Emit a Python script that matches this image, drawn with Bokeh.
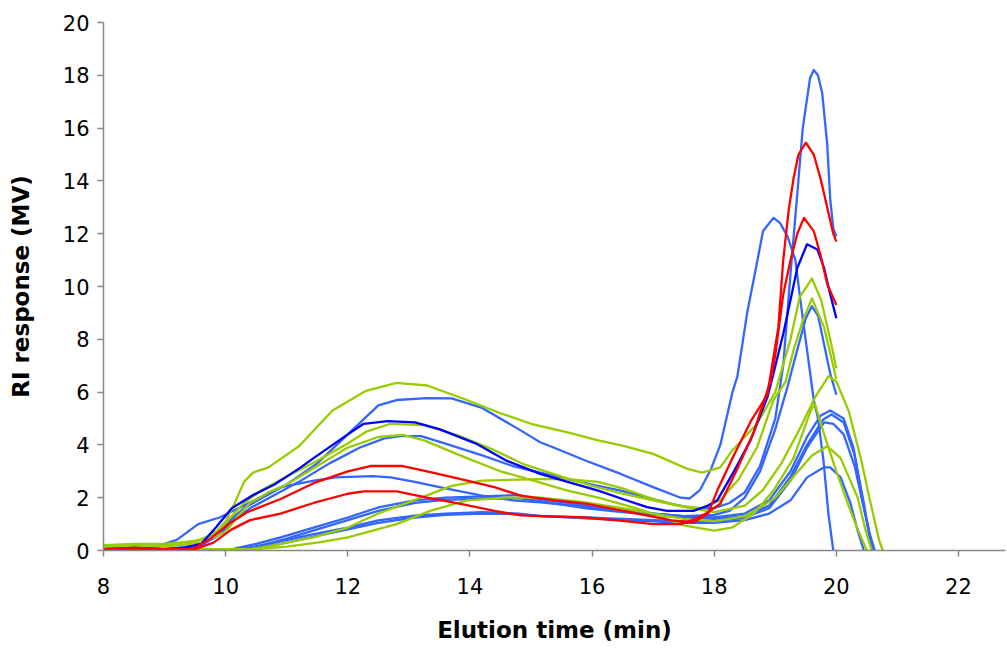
from bokeh.plotting import figure
from bokeh.models import FixedTicker, Range1d
from bokeh.embed import file_html
from bokeh.resources import INLINE

# ---------------- data ----------------
x_ticks = [8, 10, 12, 14, 16, 18, 20, 22]
y_ticks = [0, 2, 4, 6, 8, 10, 12, 14, 16, 18, 20]

# light-blue series
bhigh_x = [8.0, 9.0, 9.5, 9.8, 10.0, 10.3, 10.6, 11.0, 11.5, 12.0, 12.5, 12.8, 13.3, 13.7, 14.2, 14.83, 15.15, 15.37, 15.9, 16.47, 17.0, 17.45, 17.6, 17.77, 17.95, 18.1, 18.3, 18.38, 18.54, 18.7, 18.8, 18.97, 19.08, 19.2, 19.33, 19.41, 19.52, 19.63, 19.7, 19.79, 19.87, 19.95]
bhigh_y = [0.05, 0.05, 0.15, 0.5, 1.0, 1.6, 2.0, 2.5, 3.3, 4.4, 5.5, 5.7, 5.77, 5.76, 5.4, 4.55, 4.1, 3.9, 3.4, 2.9, 2.4, 2.0, 1.97, 2.3, 3.1, 4.0, 6.0, 6.6, 9.0, 10.9, 12.1, 12.6, 12.4, 11.9, 11.0, 9.5, 7.6, 5.7, 5.0, 3.4, 1.4, 0.0]

b3_x = [8.0, 9.0, 9.6, 9.9, 10.1, 10.4, 10.8, 11.2, 11.7, 12.2, 12.6, 12.86, 13.2, 13.6, 14.2, 14.7, 15.15, 15.6, 16.0, 16.47, 17.0, 17.3, 17.66, 18.0, 18.25, 18.5, 18.75, 19.0, 19.13, 19.25, 19.36, 19.45, 19.57, 19.63, 19.7, 19.77, 19.85, 19.9, 19.95, 20.0]
b3_y = [0.05, 0.05, 0.2, 0.6, 1.1, 1.6, 2.1, 2.6, 3.3, 3.9, 4.25, 4.33, 4.33, 4.05, 3.6, 3.2, 2.95, 2.7, 2.5, 2.27, 1.95, 1.77, 1.6, 1.6, 1.8, 2.2, 3.2, 5.0, 7.0, 10.5, 13.5, 16.0, 17.9, 18.2, 18.0, 17.3, 15.4, 13.3, 12.2, 11.9]

bmid_x = [8.0, 8.8, 9.2, 9.55, 9.9, 10.3, 10.9, 11.45, 11.8, 12.4, 12.7, 13.1, 13.6, 14.2, 14.7, 15.15, 15.9, 16.5, 17.0, 17.5, 18.0, 18.25, 18.5, 18.75, 19.0, 19.2, 19.36, 19.5, 19.6, 19.7, 19.8, 19.9, 20.0]
bmid_y = [0.05, 0.1, 0.4, 1.0, 1.25, 1.7, 2.4, 2.65, 2.77, 2.82, 2.77, 2.6, 2.35, 2.08, 1.9, 1.82, 1.65, 1.5, 1.4, 1.3, 1.35, 1.5, 2.0, 3.0, 4.6, 6.2, 7.6, 8.8, 9.25, 8.9, 7.8, 6.7, 5.9]

blow1_x = [8.0, 10.0, 10.5, 10.9, 11.44, 12.0, 12.5, 13.1, 13.6, 14.2, 14.8, 15.15, 15.9, 16.5, 17.0, 17.5, 18.0, 18.5, 18.9, 19.25, 19.52, 19.74, 19.9, 20.12, 20.28, 20.42, 20.55, 20.63]
blow1_y = [0.0, 0.0, 0.25, 0.5, 0.87, 1.25, 1.63, 1.9, 2.0, 2.05, 2.1, 1.95, 1.7, 1.5, 1.4, 1.3, 1.25, 1.4, 1.9, 3.0, 4.3, 5.1, 5.3, 5.0, 3.9, 2.0, 0.6, 0.0]

blow2_x = [8.0, 10.1, 10.6, 11.0, 11.5, 12.0, 12.5, 13.1, 13.6, 14.2, 14.8, 15.2, 15.9, 16.5, 17.0, 17.5, 18.0, 18.5, 18.9, 19.25, 19.52, 19.78, 19.92, 20.12, 20.3, 20.45, 20.58]
blow2_y = [0.0, 0.0, 0.2, 0.45, 0.8, 1.15, 1.5, 1.8, 1.92, 1.97, 1.98, 1.85, 1.6, 1.45, 1.35, 1.25, 1.2, 1.3, 1.7, 2.8, 4.0, 4.95, 5.15, 4.85, 3.6, 1.8, 0.0]

blow3_x = [8.0, 10.2, 10.8, 11.4, 12.0, 12.5, 13.1, 13.6, 14.2, 14.8, 15.15, 15.9, 16.5, 17.0, 17.5, 18.0, 18.5, 18.9, 19.25, 19.52, 19.8, 19.95, 20.12, 20.3, 20.45, 20.6]
blow3_y = [0.0, 0.0, 0.3, 0.6, 0.87, 1.14, 1.32, 1.4, 1.45, 1.4, 1.3, 1.25, 1.2, 1.15, 1.1, 1.1, 1.25, 1.6, 2.65, 3.9, 4.85, 4.8, 4.4, 3.2, 1.6, 0.0]

blow4_x = [8.0, 10.3, 10.9, 11.5, 12.0, 12.5, 13.1, 13.6, 14.2, 14.8, 15.2, 15.9, 16.5, 17.0, 17.5, 18.0, 18.5, 18.9, 19.25, 19.52, 19.8, 19.9, 20.07, 20.23, 20.35, 20.45]
blow4_y = [0.0, 0.0, 0.25, 0.55, 0.8, 1.05, 1.25, 1.35, 1.4, 1.38, 1.3, 1.22, 1.15, 1.1, 1.05, 1.05, 1.15, 1.4, 1.9, 2.77, 3.15, 3.15, 2.77, 1.8, 0.75, 0.0]

# green series
g1_x = [8.0, 8.5, 9.0, 9.5, 9.8, 10.0, 10.15, 10.3, 10.45, 10.7, 11.2, 11.75, 12.3, 12.8, 13.3, 13.95, 14.5, 15.0, 15.6, 16.1, 16.5, 17.0, 17.55, 17.8, 18.1, 18.3, 18.7, 19.0, 19.25, 19.4, 19.6, 19.75, 19.9, 20.0]
g1_y = [0.2, 0.25, 0.25, 0.35, 0.6, 1.1, 1.8, 2.6, 2.95, 3.15, 3.95, 5.3, 6.05, 6.35, 6.25, 5.7, 5.2, 4.8, 4.47, 4.17, 3.97, 3.66, 3.1, 2.95, 3.15, 3.8, 4.8, 6.0, 8.0, 9.6, 10.3, 9.5, 8.0, 6.9]

g2_x = [8.0, 9.0, 9.6, 9.9, 10.1, 10.3, 10.6, 11.0, 11.5, 12.0, 12.3, 12.7, 13.25, 13.8, 14.4, 14.9, 15.5, 16.0, 16.5, 17.0, 17.4, 17.8, 18.1, 18.4, 18.7, 18.97, 19.17, 19.3, 19.45, 19.6, 19.8, 20.0]
g2_y = [0.15, 0.2, 0.4, 0.8, 1.3, 1.8, 2.3, 2.8, 3.4, 4.05, 4.5, 4.8, 4.75, 4.36, 3.8, 3.25, 2.8, 2.45, 2.15, 1.9, 1.7, 1.6, 1.9, 2.7, 3.9, 5.7, 6.4, 7.6, 8.7, 9.55, 8.45, 6.5]

g3_x = [8.0, 9.0, 9.6, 10.0, 10.2, 10.4, 10.7, 11.0, 11.5, 12.0, 12.5, 12.9, 13.25, 13.95, 14.5, 15.04, 15.6, 16.1, 16.5, 17.0, 17.5, 18.0, 18.3, 18.65, 18.97, 19.3, 19.58, 19.65, 19.8, 20.0, 20.2, 20.35, 20.5]
g3_y = [0.1, 0.15, 0.3, 0.7, 1.3, 1.8, 2.2, 2.5, 3.2, 3.9, 4.3, 4.38, 4.17, 3.5, 3.0, 2.65, 2.27, 2.0, 1.75, 1.4, 0.95, 0.75, 0.88, 1.4, 2.27, 3.5, 5.3, 5.55, 4.4, 3.0, 1.7, 0.8, 0.0]

glow1_x = [8.0, 9.0, 10.0, 10.4, 10.8, 11.44, 12.0, 12.5, 13.2, 13.7, 14.2, 15.15, 15.6, 16.1, 16.5, 17.0, 17.5, 18.0, 18.5, 18.8, 19.1, 19.4, 19.65, 19.87, 20.0, 20.2, 20.4, 20.55, 20.7, 20.76]
glow1_y = [0.05, 0.05, 0.05, 0.05, 0.2, 0.5, 0.87, 1.4, 2.0, 2.45, 2.65, 2.7, 2.7, 2.6, 2.35, 1.95, 1.65, 1.45, 1.7, 2.3, 3.3, 4.6, 5.8, 6.6, 6.4, 5.3, 3.5, 1.9, 0.4, 0.0]

glow2_x = [8.0, 10.0, 10.5, 11.0, 11.5, 12.0, 12.8, 13.35, 13.95, 14.6, 15.15, 15.8, 16.5, 17.0, 17.5, 18.0, 18.5, 18.8, 19.0, 19.3, 19.6, 19.85, 20.07, 20.35, 20.48, 20.58]
glow2_y = [0.05, 0.05, 0.05, 0.15, 0.3, 0.5, 1.0, 1.5, 1.9, 2.0, 2.0, 1.85, 1.6, 1.4, 1.2, 1.1, 1.3, 1.7, 2.0, 2.8, 3.6, 3.95, 3.5, 2.0, 0.75, 0.0]

# dark-blue series
db_x = [8.0, 8.5, 9.0, 9.3, 9.6, 9.85, 10.1, 10.45, 10.8, 11.2, 11.44, 12.0, 12.26, 12.65, 13.1, 13.5, 14.1, 14.6, 15.15, 15.6, 16.1, 16.5, 16.9, 17.23, 17.66, 17.9, 18.05, 18.3, 18.6, 18.87, 18.97, 19.13, 19.25, 19.36, 19.52, 19.69, 19.8, 19.9, 20.0]
db_y = [0.05, 0.1, 0.05, 0.1, 0.25, 0.9, 1.6, 2.1, 2.5, 3.1, 3.5, 4.4, 4.8, 4.9, 4.85, 4.6, 4.05, 3.4, 2.9, 2.6, 2.27, 1.95, 1.64, 1.5, 1.5, 1.7, 1.9, 2.9, 4.2, 5.8, 6.7, 8.2, 9.5, 10.7, 11.6, 11.4, 10.7, 9.7, 8.8]

# red series
r1_x = [8.0, 8.5, 9.0, 9.47, 9.75, 10.05, 10.35, 10.9, 11.44, 12.0, 12.37, 12.9, 13.3, 13.85, 14.4, 14.83, 15.4, 15.92, 16.74, 17.3, 17.66, 17.9, 18.05, 18.3, 18.6, 18.87, 19.05, 19.13, 19.22, 19.3, 19.38, 19.5, 19.63, 19.74, 19.85, 19.95, 20.0]
r1_y = [0.05, 0.1, 0.05, 0.07, 0.45, 1.0, 1.45, 1.95, 2.55, 3.0, 3.2, 3.2, 3.0, 2.7, 2.4, 2.08, 1.9, 1.77, 1.4, 1.14, 1.06, 1.4, 2.27, 3.5, 4.9, 5.9, 8.45, 11.0, 12.9, 14.1, 15.0, 15.45, 15.0, 14.1, 13.0, 12.0, 11.7]

r2_x = [8.0, 9.0, 9.5, 9.8, 10.1, 10.4, 10.9, 11.44, 12.0, 12.26, 12.8, 13.3, 13.85, 14.4, 14.83, 15.15, 15.9, 16.5, 17.0, 17.45, 17.7, 17.9, 18.1, 18.38, 18.65, 18.92, 19.0, 19.13, 19.25, 19.36, 19.47, 19.63, 19.74, 19.85, 20.0]
r2_y = [0.05, 0.05, 0.05, 0.3, 0.8, 1.15, 1.4, 1.8, 2.15, 2.24, 2.24, 2.0, 1.77, 1.5, 1.33, 1.3, 1.25, 1.12, 1.0, 1.0, 1.2, 1.45, 1.77, 3.1, 4.5, 6.4, 7.4, 9.7, 11.0, 12.0, 12.6, 12.1, 11.2, 10.1, 9.3]

LIGHT_BLUE = "#3366FF"
GREEN = "#99CC00"
DARK_BLUE = "#0000FF"
RED = "#FF0000"

series = [
    (blow4_x, blow4_y, LIGHT_BLUE), (blow3_x, blow3_y, LIGHT_BLUE),
    (blow2_x, blow2_y, LIGHT_BLUE), (blow1_x, blow1_y, LIGHT_BLUE),
    (bmid_x, bmid_y, LIGHT_BLUE), (b3_x, b3_y, LIGHT_BLUE), (bhigh_x, bhigh_y, LIGHT_BLUE),
    (glow2_x, glow2_y, GREEN), (glow1_x, glow1_y, GREEN), (g3_x, g3_y, GREEN),
    (g2_x, g2_y, GREEN), (g1_x, g1_y, GREEN),
    (db_x, db_y, DARK_BLUE),
    (r2_x, r2_y, RED), (r1_x, r1_y, RED),
]

p = figure(width=1007, height=650, output_backend="svg", toolbar_location=None,
           x_range=Range1d(8, 22.77), y_range=Range1d(0, 20),
           min_border_left=103, min_border_right=2, min_border_top=22, min_border_bottom=100)
p.outline_line_color = None
p.xgrid.grid_line_color = None
p.ygrid.grid_line_color = None
p.background_fill_color = "white"

for xs, ys, c in series:
    p.line(xs, ys, line_color=c, line_width=2.3, line_join="round")

for ax in (p.xaxis, p.yaxis):
    ax.axis_line_color = "#888888"
    ax.axis_line_width = 1.5
    ax.major_tick_line_color = "#888888"
    ax.major_tick_line_width = 1.5
    ax.major_tick_out = 6
    ax.major_tick_in = 0
    ax.minor_tick_line_color = None
    ax.major_label_text_font = "DejaVu Sans"
    ax.major_label_text_font_size = "21px"
    ax.major_label_text_color = "black"
    ax.axis_label_text_font = "DejaVu Sans"
    ax.axis_label_text_font_style = "bold"
    ax.axis_label_text_font_size = "23px"
    ax.axis_label_text_color = "black"

p.xaxis.ticker = FixedTicker(ticks=x_ticks)
p.yaxis.ticker = FixedTicker(ticks=y_ticks)
p.xaxis.axis_label = "Elution time (min)"
p.yaxis.axis_label = "RI response (MV)"
p.xaxis.major_label_standoff = 21
p.xaxis.axis_label_standoff = 20
p.yaxis.major_label_standoff = 8
p.yaxis.axis_label_standoff = 26

open("out.html", "w").write(file_html(p, INLINE))
